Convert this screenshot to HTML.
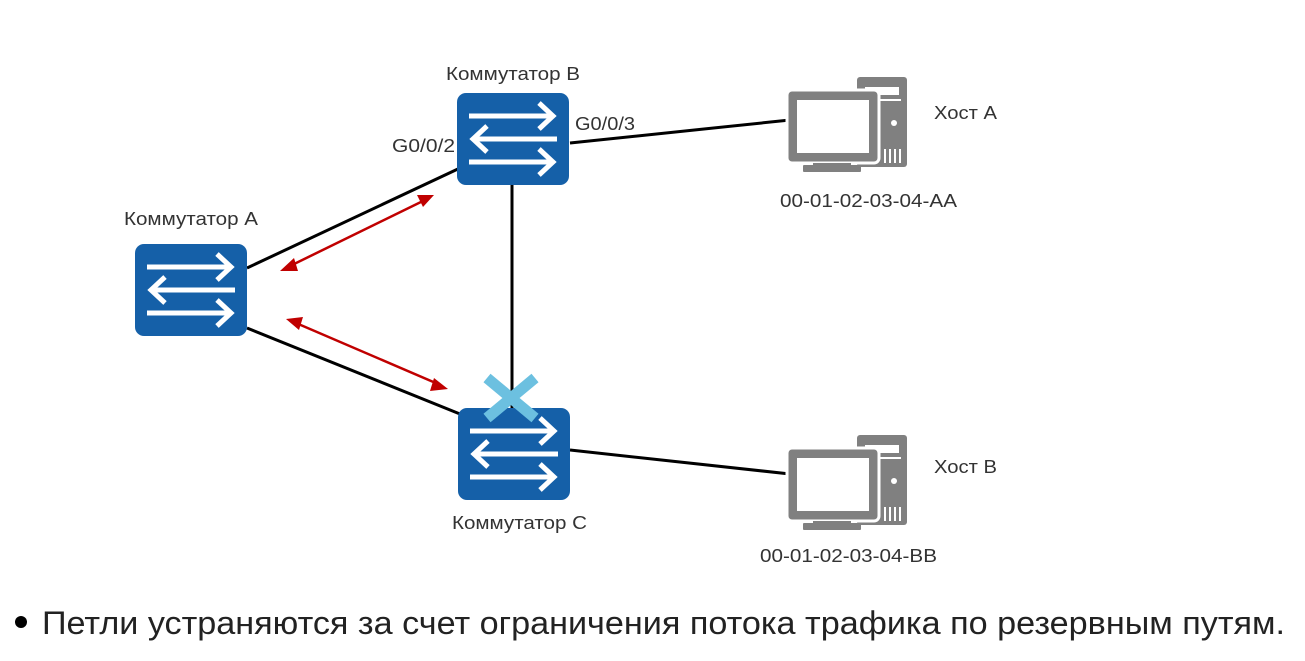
<!DOCTYPE html>
<html><head><meta charset="utf-8"><style>
html,body{margin:0;padding:0;background:#fff;width:1305px;height:661px;overflow:hidden}
text{font-family:"Liberation Sans",sans-serif;fill:#333}
</style></head><body>
<svg width="1305" height="661" viewBox="0 0 1305 661" xmlns="http://www.w3.org/2000/svg">
<defs>
<g id="sw">
<rect x="0" y="0" width="112" height="92" rx="9" fill="#1560a8"/>
<g stroke="#fff" stroke-width="5" fill="none" stroke-linecap="butt">
<line x1="12" y1="23" x2="96" y2="23"/><polyline points="82,10 96,23 82,36"/>
<line x1="100" y1="46" x2="16" y2="46"/><polyline points="30,33 16,46 30,59"/>
<line x1="12" y1="69" x2="96" y2="69"/><polyline points="82,56 96,69 82,82"/>
</g></g>
<g id="pc" fill="#808080">
<rect x="70" y="0" width="50" height="90" rx="3"/>
<rect x="78" y="10" width="34" height="8" fill="#fff"/>
<rect x="76" y="22" width="38" height="2" fill="#fff"/>
<circle cx="107" cy="46" r="3" fill="#fff"/>
<rect x="0" y="13" width="92" height="73" rx="5" stroke="#fff" stroke-width="3"/>
<rect x="10" y="23" width="72" height="53" fill="#fff"/>
<rect x="26" y="86" width="38" height="4"/>
<rect x="16" y="88" width="58" height="7" rx="1"/>
<g fill="#fff"><rect x="97" y="72" width="2" height="14"/><rect x="102" y="72" width="2" height="14"/><rect x="107" y="72" width="2" height="14"/><rect x="112" y="72" width="2" height="14"/></g>
</g>
</defs>
<g stroke="#000" stroke-width="3">
<line x1="247" y1="268" x2="460" y2="168"/>
<line x1="247" y1="328" x2="460" y2="414"/>
<line x1="512" y1="185" x2="512" y2="408"/>
<line x1="570" y1="143" x2="790" y2="120"/>
<line x1="570" y1="450" x2="790" y2="474"/>
</g>
<g stroke="#c00000" stroke-width="2.5" fill="#c00000">
<line x1="290" y1="266" x2="425" y2="200"/>
<polygon points="280,271 294,258 298,271" stroke="none"/>
<polygon points="434,195 417,195 423,207" stroke="none"/>
<line x1="296" y1="323" x2="438" y2="384"/>
<polygon points="286,319 303,317 299,330" stroke="none"/>
<polygon points="448,389 434,378 430,391" stroke="none"/>
</g>
<use href="#sw" x="135" y="244"/>
<use href="#sw" x="457" y="93"/>
<use href="#sw" x="458" y="408"/>
<g stroke="#6cc0e0" stroke-width="11"><line x1="487" y1="378" x2="535" y2="418"/><line x1="535" y1="378" x2="487" y2="418"/></g>
<use href="#pc" x="787" y="77"/>
<use href="#pc" x="787" y="435"/>
<g font-size="18">
<text x="446" y="80" textLength="134" lengthAdjust="spacingAndGlyphs">Коммутатор B</text>
<text x="392" y="152" textLength="63" lengthAdjust="spacingAndGlyphs">G0/0/2</text>
<text x="575" y="130" textLength="60" lengthAdjust="spacingAndGlyphs">G0/0/3</text>
<text x="124" y="225" textLength="134" lengthAdjust="spacingAndGlyphs">Коммутатор A</text>
<text x="452" y="529" textLength="135" lengthAdjust="spacingAndGlyphs">Коммутатор C</text>
<text x="934" y="119" textLength="63" lengthAdjust="spacingAndGlyphs">Хост A</text>
<text x="934" y="473" textLength="63" lengthAdjust="spacingAndGlyphs">Хост B</text>
<text x="780" y="207" textLength="177" lengthAdjust="spacingAndGlyphs">00-01-02-03-04-AA</text>
<text x="760" y="562" textLength="177" lengthAdjust="spacingAndGlyphs">00-01-02-03-04-BB</text>
</g>
<circle cx="21" cy="622" r="6" fill="#000"/>
<text x="42" y="634" font-size="32" textLength="1243" lengthAdjust="spacingAndGlyphs" style="fill:#222">Петли устраняются за счет ограничения потока трафика по резервным путям.</text>
</svg>
</body></html>
